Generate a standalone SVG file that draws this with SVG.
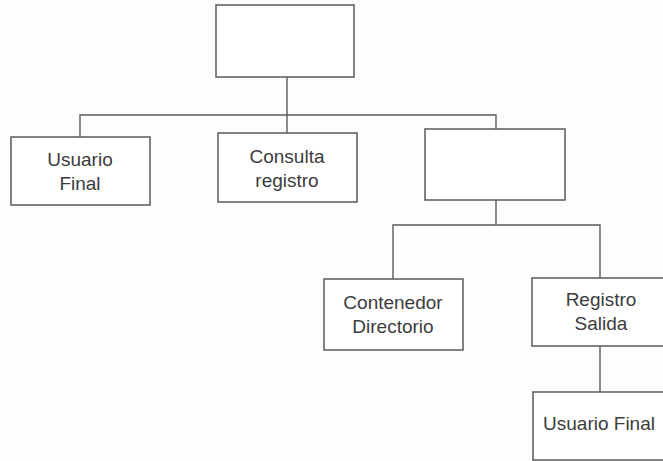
<svg xmlns="http://www.w3.org/2000/svg" width="663" height="461" viewBox="0 0 663 461">
  <style>
    .box { fill: #ffffff; stroke: #5a5a5a; stroke-width: 1.5; }
    .wire { fill: none; stroke: #5a5a5a; stroke-width: 1.4; }
    .lbl { font-family: "Liberation Sans", Arial, sans-serif; font-size: 19px; fill: #3c3c3c; text-anchor: middle; }
  </style>
  <rect width="663" height="461" fill="#fdfdfd"/>

  <g id="connectors">
    <path class="wire" d="M287 77 V133 M80 137 V115 H496 V129"/>
    <path class="wire" d="M496 200 V225 M393 279 V225 H600 V278"/>
    <path class="wire" d="M600 346 V392"/>
  </g>

  <g id="root">
    <rect class="box" x="216" y="5" width="138" height="72"/>
  </g>

  <g id="usuario-final-1">
    <rect class="box" x="11" y="137" width="139" height="68"/>
    <text class="lbl" x="80" y="166">Usuario</text>
    <text class="lbl" x="80" y="190">Final</text>
  </g>

  <g id="consulta-registro">
    <rect class="box" x="218" y="133" width="139" height="69"/>
    <text class="lbl" x="287" y="163">Consulta</text>
    <text class="lbl" x="287" y="187">registro</text>
  </g>

  <g id="branch">
    <rect class="box" x="425" y="129" width="140" height="71"/>
  </g>

  <g id="contenedor-directorio">
    <rect class="box" x="324" y="279" width="139" height="71"/>
    <text class="lbl" x="393" y="309">Contenedor</text>
    <text class="lbl" x="393" y="333">Directorio</text>
  </g>

  <g id="registro-salida">
    <rect class="box" x="532" y="278" width="140" height="68"/>
    <text class="lbl" x="601" y="306">Registro</text>
    <text class="lbl" x="601" y="330">Salida</text>
  </g>

  <g id="usuario-final-2">
    <rect class="box" x="533" y="392" width="140" height="68"/>
    <text class="lbl" x="599" y="430">Usuario Final</text>
  </g>
</svg>
